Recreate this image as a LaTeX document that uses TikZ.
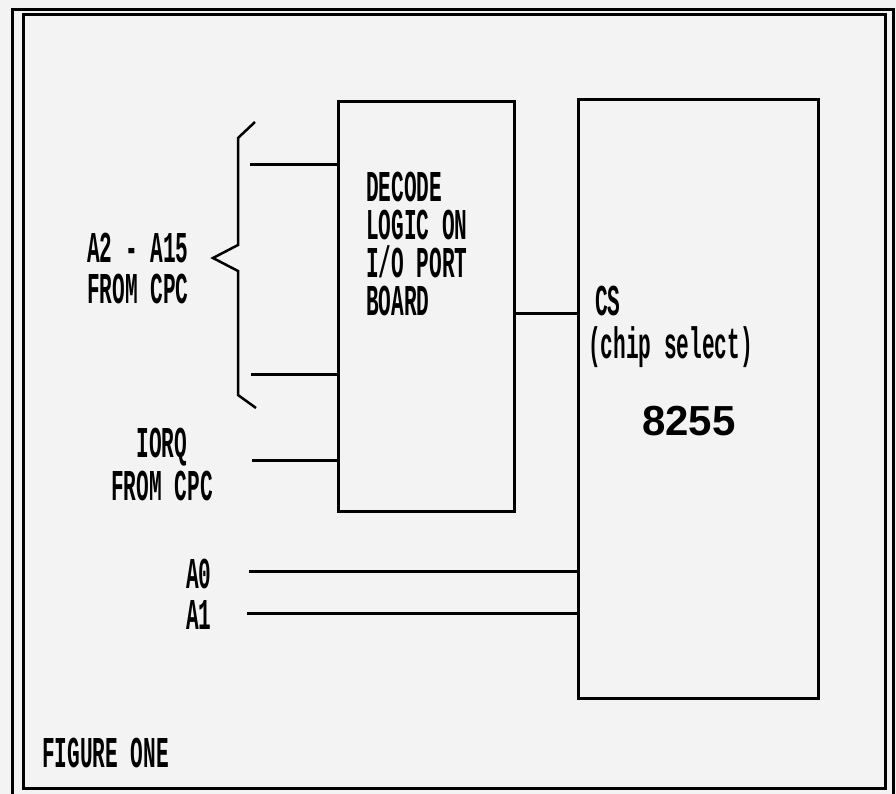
\documentclass[tikz,border=0pt]{standalone}
\usepackage{fontspec}
\newfontfamily\dotfont[FakeStretch=0.48]{Liberation Mono}
\newfontfamily\bigfont{Liberation Sans}
\definecolor{paper}{RGB}{243,243,243}
\begin{document}
\begin{tikzpicture}[x=1pt,y=-1pt,
  lbl/.style={inner sep=0pt, anchor=base west, text height=27pt, text depth=2pt,
    font=\dotfont\bfseries\fontsize{44}{44}\selectfont},
  block/.style={inner sep=0pt, anchor=north west, align=left,
    font=\dotfont\bfseries\fontsize{44}{38}\selectfont},
  wire/.style={line width=3pt},
  box/.style={draw, line width=3pt, inner sep=0pt, anchor=north west},
  frame/.style={draw, line width=3pt}]
\useasboundingbox[fill=paper] (0,0) rectangle (896,794);
% double frame
\draw[frame] (12,10) rectangle (893,797);
\draw[frame] (23,15) rectangle (885,788);
% boxes
\node[box, minimum width=176pt, minimum height=410pt] (decode) at (337,100) {};
\node[box, minimum width=240pt, minimum height=599pt] (chip) at (577,98) {};
% brace
\draw[line width=2.5pt, line join=miter] (255,122) -- (238,138) -- (238,245) -- (213,258) -- (238,271) -- (238,395) -- (256,408);
% wires
\coordinate (t1) at (250,165);
\coordinate (t2) at (251,374);
\coordinate (iq) at (252,460);
\coordinate (csy) at (545,313);
\coordinate (a0) at (249,571);
\coordinate (a1) at (247,613);
\draw[wire] (t1) -- (t1 -| decode.west);
\draw[wire] (t2) -- (t2 -| decode.west);
\draw[wire] (iq) -- (iq -| decode.west);
\draw[wire] (csy -| decode.east) -- (csy -| chip.west);
\draw[wire] (a0) -- (a0 -| chip.west);
\draw[wire] (a1) -- (a1 -| chip.west);
% labels
\node[lbl] (l1) at (87,262) {A2 - A15};
\node[lbl] (l2) at (87,303) {FROM CPC};
\node[lbl, anchor=base] (l3) at (162,457) {IORQ};
\node[lbl, anchor=base] (l4) at (162,500) {FROM CPC};
\node[lbl] (l5) at (186,588) {A0};
\node[lbl] (l6) at (186,629) {A1};
\node[block] (dtext) at (366,172) {DECODE\\LOGIC ON\\I/O PORT\\BOARD};
\node[lbl] (cs) at (595,315) {CS};
\node[lbl] (csn) at (588,358) {(chip select)};
\node[inner sep=0pt, anchor=base west, font=\bigfont\bfseries\fontsize{42}{42}\selectfont] (n8255) at (642,435) {8255};
\node[lbl] (fig) at (42,767) {FIGURE ONE};
\end{tikzpicture}
\end{document}
